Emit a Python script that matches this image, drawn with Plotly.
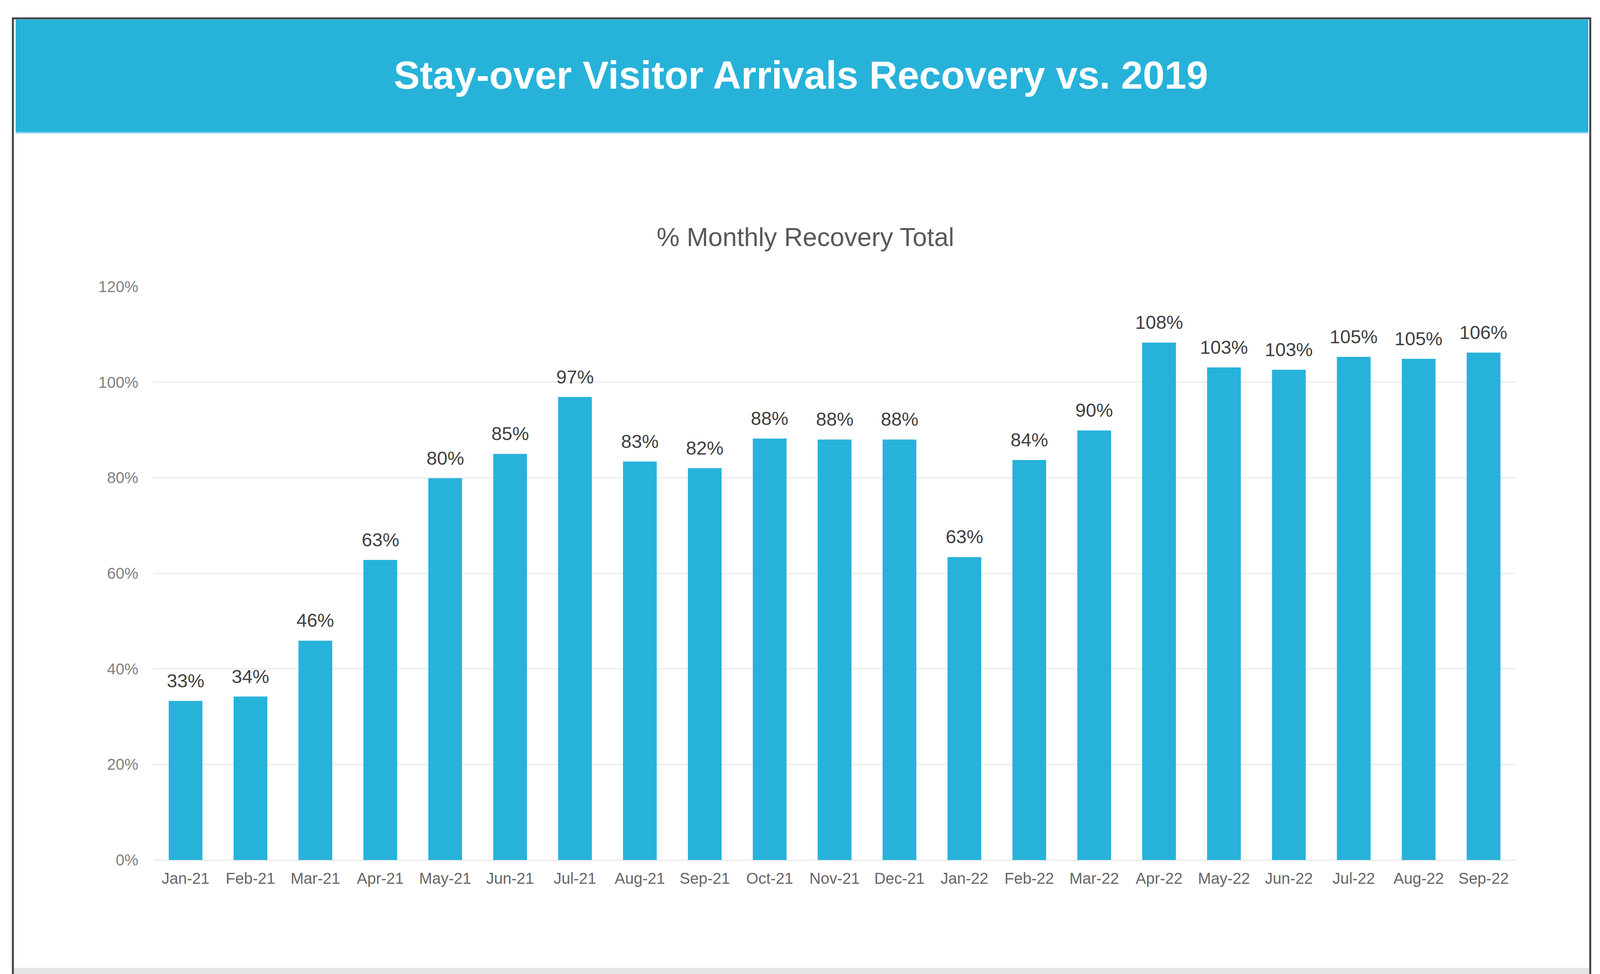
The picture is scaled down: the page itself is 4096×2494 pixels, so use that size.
import plotly.graph_objects as go

# ---- data ----
months = ["Jan-21", "Feb-21", "Mar-21", "Apr-21", "May-21", "Jun-21", "Jul-21",
          "Aug-21", "Sep-21", "Oct-21", "Nov-21", "Dec-21", "Jan-22", "Feb-22",
          "Mar-22", "Apr-22", "May-22", "Jun-22", "Jul-22", "Aug-22", "Sep-22"]
recovery = [0.333, 0.342, 0.459, 0.628, 0.799, 0.850, 0.969, 0.834, 0.820, 0.882,
            0.880, 0.880, 0.634, 0.837, 0.899, 1.083, 1.031, 1.026, 1.053, 1.049, 1.062]
y_ticks = [0, 0.2, 0.4, 0.6, 0.8, 1.0, 1.2]

title_text = "Stay-over Visitor Arrivals Recovery vs. 2019"
subtitle_text = "% Monthly Recovery Total"

# ---- layout geometry (window pixels; page body has an 8px margin) ----
OFF = 8
W, H = 4096 - OFF, 2494 - OFF
L, T = 392 - OFF, 734 - OFF
R = W - (3881 - OFF)
B = H - (2202 - OFF)
PW = W - L - R
PH = H - T - B

def fx(px):
    # px: absolute window x
    return (px - OFF - L) / PW

def fy(py):
    # py: absolute window y
    return (H - B - (py - OFF)) / PH

BAR = "#27B2DA"
FONT = "Liberation Sans, Arial, sans-serif"

fig = go.Figure()
fig.add_trace(go.Bar(
    x=months, y=recovery,
    marker=dict(color=BAR, line=dict(width=0)),
    hoverinfo="x+y",
))

annotations = []
for m, v in zip(months, recovery):
    annotations.append(dict(
        x=m, y=v, xref="x", yref="y", text=f"{round(v * 100)}%",
        showarrow=False, yanchor="bottom", yshift=23,
        font=dict(family=FONT, size=48, color="#404040"),
    ))

annotations.append(dict(
    x=fx(2050), y=fy(192), xref="paper", yref="paper", text=f"<b>{title_text}</b>",
    showarrow=False, xanchor="center", yanchor="middle",
    font=dict(family=FONT, size=100, color="white"),
))
annotations.append(dict(
    x=fx(2062), y=fy(607), xref="paper", yref="paper", text=subtitle_text,
    showarrow=False, xanchor="center", yanchor="middle",
    font=dict(family=FONT, size=66, color="#595959"),
))

shapes = [
    # header band
    dict(type="rect", xref="paper", yref="paper", x0=fx(40), x1=fx(4066), y0=fy(338), y1=fy(50),
         fillcolor=BAR, line=dict(width=0), layer="below"),
    # light line under header
    dict(type="line", xref="paper", yref="paper", x0=fx(40), x1=fx(4066), y0=fy(340), y1=fy(340),
         line=dict(color="#8ED6F0", width=4), layer="below"),
    # bottom gray strip
    dict(type="rect", xref="paper", yref="paper", x0=fx(36), x1=fx(4068), y0=fy(2500), y1=fy(2478),
         fillcolor="#E4E4E4", line=dict(width=0), layer="below"),
    # card border
    dict(type="rect", xref="paper", yref="paper", x0=fx(33), x1=fx(4071), y0=fy(2510), y1=fy(47),
         fillcolor="rgba(0,0,0,0)", line=dict(color="#3A4448", width=5), layer="below"),
]

fig.update_layout(
    width=W, height=H,
    margin=dict(l=L, r=R, t=T, b=B, autoexpand=False),
    paper_bgcolor="white", plot_bgcolor="white",
    showlegend=False,
    bargap=0.48,
    annotations=annotations,
    shapes=shapes,
    font=dict(family=FONT),
    xaxis=dict(
        type="category", showgrid=False, showline=False, zeroline=False, ticks="",
        tickfont=dict(family=FONT, size=40, color="#666666"),
        ticklabelstandoff=20,
    ),
    yaxis=dict(
        range=[0, 1.2], tickvals=y_ticks, tickformat=".0%",
        showgrid=True, gridcolor="#EBEBEB", gridwidth=3,
        zeroline=True, zerolinecolor="#E6E6E6", zerolinewidth=3,
        showline=False, ticks="",
        tickfont=dict(family=FONT, size=40, color="#7F7F7F"),
        ticklabelstandoff=37,
    ),
)

fig.write_html("out.html")
